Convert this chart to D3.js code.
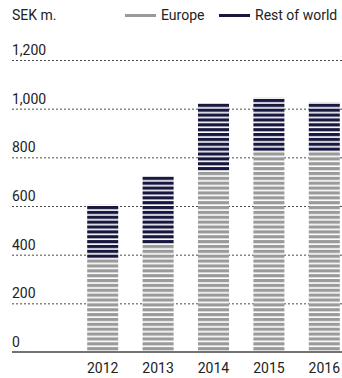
<!DOCTYPE html>
<html>
<head>
<meta charset="utf-8">
<script src="https://cdn.jsdelivr.net/npm/d3@7"></script>
<style>
  html, body { margin: 0; padding: 0; background: #fff; }
  svg { display: block; font-family: Roboto, "Liberation Sans", sans-serif; }
</style>
</head>
<body>
<svg id="chart" width="342" height="378"></svg>
<script>
// Net sales by region, SEK m.
const years = ["2012", "2013", "2014", "2015", "2016"];
const europe = [385, 445, 745, 825, 825];
const restOfWorld = [220, 278, 278, 220, 200];
const yTicks = [0, 200, 400, 600, 800, 1000, 1200];
const seriesNames = ["Europe", "Rest of world"];
const seriesColors = ["#9a9a9a", "#17173f"];

const svg = d3.select("#chart");
const W = 342;
const textColor = "#222";
const fontSize = 14;

const x = d3.scaleBand()
  .domain(years)
  .range([75, 352])
  .paddingInner(0.44)
  .paddingOuter(0.22);

const y = d3.scaleLinear()
  .domain([0, 1200])
  .range([352, 60]);

// Horizontal stripe fill, one stripe per 20 units, stripe on top of each tile
const period = y(0) - y(20);
const defs = svg.append("defs");
seriesColors.forEach((c, i) => {
  const p = defs.append("pattern")
    .attr("id", "stripe" + i)
    .attr("patternUnits", "userSpaceOnUse")
    .attr("x", 0)
    .attr("y", y(0))
    .attr("width", 10)
    .attr("height", period);
  p.append("rect").attr("width", 10).attr("height", period).attr("fill", "#fff");
  p.append("rect").attr("y", 0).attr("width", 10).attr("height", period * 0.66).attr("fill", c);
});

// Gridlines and y labels
const grid = svg.append("g");
yTicks.filter(d => d > 0).forEach(t => {
  grid.append("line")
    .attr("x1", 12).attr("x2", W)
    .attr("y1", y(t) + 0.5).attr("y2", y(t) + 0.5)
    .attr("stroke", "#4a4a4a")
    .attr("stroke-width", 1)
    .attr("stroke-dasharray", "2,2");
});
yTicks.forEach(t => {
  svg.append("text")
    .attr("x", 12)
    .attr("y", y(t) - 5)
    .attr("font-size", fontSize)
    .attr("fill", textColor)
    .text(d3.format(",")(t));
});

// Stacked bars
const stacked = years.map((yr, i) => ({ year: yr, vals: [europe[i], restOfWorld[i]] }));
stacked.forEach(d => {
  let base = 0;
  d.vals.forEach((v, i) => {
    svg.append("rect")
      .attr("x", x(d.year))
      .attr("y", y(base + v))
      .attr("width", x.bandwidth())
      .attr("height", y(base) - y(base + v))
      .attr("fill", "url(#stripe" + i + ")");
    base += v;
  });
});

// Baseline
svg.append("line")
  .attr("x1", 12).attr("x2", W)
  .attr("y1", y(0)).attr("y2", y(0))
  .attr("stroke", "#444")
  .attr("stroke-width", 1.5);

// X labels
svg.append("g").selectAll("text")
  .data(years)
  .join("text")
  .attr("x", d => x(d) + x.bandwidth() / 2)
  .attr("y", 373)
  .attr("text-anchor", "middle")
  .attr("font-size", fontSize)
  .attr("fill", textColor)
  .text(d => d);

// Unit label
svg.append("text")
  .attr("x", 12).attr("y", 20)
  .attr("font-size", fontSize)
  .attr("fill", textColor)
  .text("SEK m.");

// Legend
const legendX = [125, 219];
seriesNames.forEach((n, i) => {
  svg.append("line")
    .attr("x1", legendX[i]).attr("x2", legendX[i] + 31)
    .attr("y1", 15.5).attr("y2", 15.5)
    .attr("stroke", seriesColors[i])
    .attr("stroke-width", 3);
  svg.append("text")
    .attr("x", legendX[i] + 36).attr("y", 20)
    .attr("font-size", fontSize)
    .attr("fill", textColor)
    .text(n);
});
</script>
</body>
</html>
